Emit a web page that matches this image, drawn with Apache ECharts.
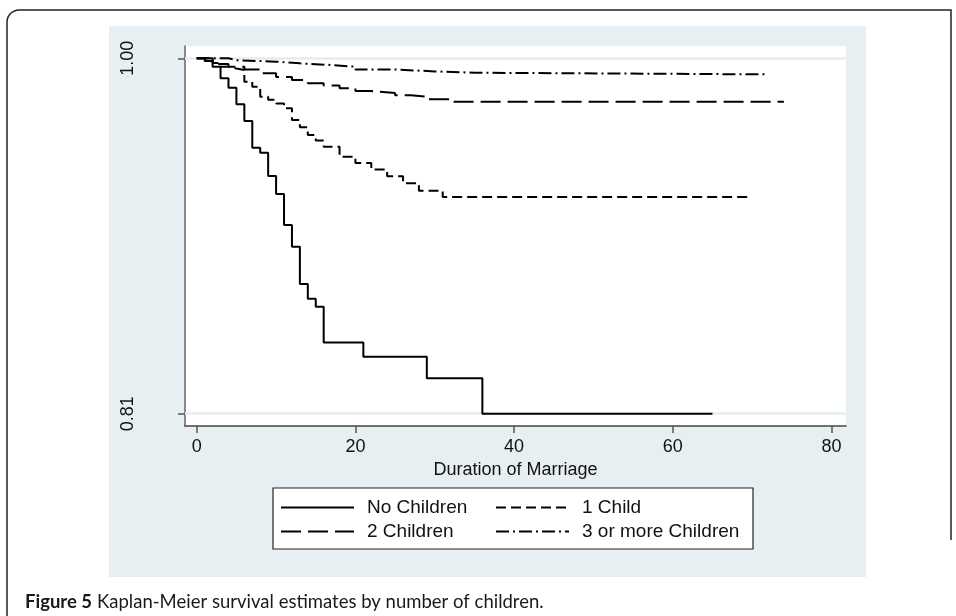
<!DOCTYPE html>
<html>
<head>
<meta charset="utf-8">
<script src="https://cdn.jsdelivr.net/npm/echarts@6/dist/echarts.min.js"></script>
<style>
html,body{margin:0;padding:0;background:#fff;}
#c{width:956px;height:616px;}
</style>
</head>
<body>
<div id="c"></div>
<script>
// ---- data ----
const seriesNames = ['No Children', '1 Child', '2 Children', '3 or more Children'];

const timesNone = [0, 2, 3, 4, 5, 6, 7, 8, 9, 10, 11, 12, 13, 14, 15, 16, 21, 29, 36, 65];
const survNone  = [1.0, 0.9955, 0.9893, 0.9843, 0.9754, 0.9665, 0.9522, 0.9495, 0.9371, 0.9275,
                   0.9109, 0.8993, 0.8793, 0.8715, 0.8672, 0.8480, 0.8405, 0.8289, 0.8100, 0.8100];

const timesOne = [0, 1, 2, 3, 4, 5, 6, 7, 8, 9, 10, 11, 12, 13, 14, 15, 16, 18, 20, 22, 24, 26, 28, 31, 70];
const survOne  = [1.0, 0.9992, 0.9975, 0.9955, 0.9945, 0.9938, 0.9875, 0.9848, 0.9795, 0.9778,
                  0.9759, 0.9733, 0.9670, 0.9632, 0.9590, 0.9560, 0.9527, 0.9474, 0.9440, 0.9405,
                  0.9370, 0.9332, 0.9292, 0.9258, 0.9258];

const timesTwo = [0, 1, 2, 4, 6, 8, 10, 12, 14, 16, 18, 20, 22, 25, 27, 29, 32, 74];
const survTwo  = [1.0, 0.9985, 0.9970, 0.9955, 0.9940, 0.9920, 0.9900, 0.9884, 0.9866, 0.9855,
                  0.9840, 0.9825, 0.9815, 0.9803, 0.9795, 0.9781, 0.9768, 0.9768];

const timesThree = [0, 4, 5, 10, 13, 17, 20, 25, 30, 35, 72];
const survThree  = [1.0, 0.9990, 0.9982, 0.9973, 0.9964, 0.9955, 0.9940, 0.9930, 0.9923, 0.9914, 0.9914];

const xTicks = [0, 20, 40, 60, 80];
const yTicks = [0.81, 1.00];
const xTitle = 'Duration of Marriage';
const captionLabel = 'Figure 5';
const captionText = 'Kaplan-Meier survival estimates by number of children.';

// ---- build ----
const pairs = (t, s) => t.map((v, i) => [v, s[i]]);
const dashes = ['solid', [10, 5], [20, 7], [13, 4, 2, 4]];
const dataSets = [pairs(timesNone, survNone), pairs(timesOne, survOne), pairs(timesTwo, survTwo), pairs(timesThree, survThree)];

const FONT = 'Liberation Sans, Arial, sans-serif';
const chart = echarts.init(document.getElementById('c'), null, {renderer: 'canvas'});

const series = [{
  type: 'line', name: '__grid', data: [], z: 1, silent: true,
  markLine: {
    silent: true, symbol: 'none', label: {show: false}, z: 1,
    lineStyle: {color: '#e4ecf0', width: 2.5, type: 'solid'},
    data: yTicks.map(v => ({yAxis: v}))
  }
}];
seriesNames.forEach((n, i) => {
  series.push({
    type: 'line', name: n, data: dataSets[i], step: 'end',
    symbol: 'none', showSymbol: false, z: 3, silent: true,
    lineStyle: {color: '#000', width: 2, type: dashes[i]},
    itemStyle: {color: '#000'}
  });
});

const legendCommon = {
  orient: 'vertical', itemWidth: 73, itemHeight: 20, itemGap: 5,
  selectedMode: false,
  itemStyle: {color: 'rgba(0,0,0,0)', borderColor: 'rgba(0,0,0,0)', borderWidth: 0, opacity: 0},
  lineStyle: {color: '#000', width: 2},
  textStyle: {fontSize: 19, color: '#111', fontFamily: FONT, padding: [0, 0, 0, 8]}
};

// rounded frame corner points
const corner = [];
for (let k = 0; k <= 8; k++) {
  const a = Math.PI + (Math.PI / 2) * (k / 8);
  corner.push([19 + 12 * Math.cos(a), 22 + 12 * Math.sin(a)]);
}
const framePts = [[7, 620]].concat(corner, [[951, 10], [951, 540]]);

chart.setOption({
  animation: false,
  backgroundColor: '#fff',
  title: {
    left: 20, top: 588,
    text: '{b|' + captionLabel + '} {n|' + captionText + '}',
    textStyle: {
      rich: {
        b: {fontFamily: 'Lato, Noto Sans, sans-serif', fontWeight: 'bold', fontSize: 18.5, color: '#1a1a1a'},
        n: {fontFamily: 'Lato, Noto Sans, sans-serif', fontWeight: 'normal', fontSize: 18.5, color: '#1a1a1a'}
      }
    }
  },
  graphic: [
    {type: 'polyline', z: -20, silent: true,
     shape: {points: framePts},
     style: {fill: null, stroke: '#222', lineWidth: 1.5}},
    {type: 'rect', z: -10, silent: true,
     shape: {x: 109, y: 26, width: 757, height: 551},
     style: {fill: '#e8eff2'}},
    {type: 'rect', z: 1, silent: true,
     shape: {x: 273, y: 488, width: 480, height: 61},
     style: {fill: '#fff', stroke: '#222', lineWidth: 1.2}}
  ],
  grid: {
    left: 185, right: 110, top: 46, bottom: 190,
    show: true, backgroundColor: '#fff', borderWidth: 0
  },
  xAxis: {
    type: 'value', min: -1.48, max: 81.83,
    name: xTitle, nameLocation: 'middle', nameGap: 30,
    nameTextStyle: {fontSize: 18, color: '#111', fontFamily: FONT},
    axisLine: {show: true, onZero: false, lineStyle: {color: '#444', width: 1.5}},
    axisTick: {show: true, length: 7, customValues: xTicks, lineStyle: {color: '#555', width: 1.5}},
    axisLabel: {show: true, customValues: xTicks, margin: 12, fontSize: 18, color: '#111', fontFamily: FONT},
    splitLine: {show: false}
  },
  yAxis: {
    type: 'value', min: 0.80342, max: 1.00658,
    axisLine: {show: true, onZero: false, lineStyle: {color: '#666', width: 1.5}},
    axisTick: {show: true, length: 7, customValues: yTicks, lineStyle: {color: '#555', width: 1.5}},
    axisLabel: {show: true, customValues: yTicks, rotate: 90, margin: 48, fontSize: 18, color: '#111',
                fontFamily: FONT, formatter: v => Number(v).toFixed(2)},
    splitLine: {show: false}
  },
  legend: [
    Object.assign({}, legendCommon, {left: 275, top: 493, data: [seriesNames[0], seriesNames[2]]}),
    Object.assign({}, legendCommon, {left: 490, top: 493, data: [seriesNames[1], seriesNames[3]]})
  ],
  series: series
});
</script>
</body>
</html>
